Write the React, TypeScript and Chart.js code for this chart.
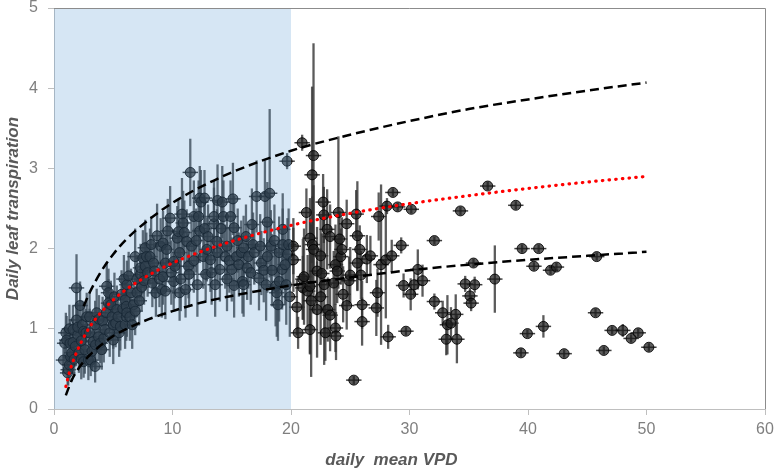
import React, { useEffect, useRef } from "react";
import { Chart, registerables } from "chart.js";

Chart.register(...registerables);

// ---- axes ----
const xTicks = [0, 10, 20, 30, 40, 50, 60];
const yTicks = [0, 1, 2, 3, 4, 5];
const xTitle = "daily  mean VPD";
const yTitle = "Daily leaf transpiration";
const shadedVpd = [0, 20];

// ---- fitted curves ----
const fitVpd = [1, 1.25, 1.5, 2, 2.5, 3, 4, 5, 6, 8, 10, 12, 15, 20, 25, 30, 35, 40, 45, 50];
const fitMean = [0.28, 0.43, 0.55, 0.74, 0.89, 1.02, 1.21, 1.36, 1.48, 1.67, 1.82, 1.94, 2.09, 2.29, 2.44, 2.56, 2.66, 2.75, 2.83, 2.9];
const fitUpper = [null, null, null, null, 1.28, 1.45, 1.72, 1.93, 2.1, 2.36, 2.57, 2.74, 2.95, 3.22, 3.42, 3.59, 3.74, 3.86, 3.97, 4.07];
const fitLower = [0.17, 0.27, 0.36, 0.49, 0.59, 0.67, 0.8, 0.91, 0.99, 1.12, 1.22, 1.31, 1.41, 1.54, 1.64, 1.73, 1.8, 1.86, 1.91, 1.96];

// ---- observations: [vpd, transpiration, transpiration error] ----
const obsLowVpd = [
  [0.8, 0.61, 0.15], [0.9, 0.82, 0.2], [1.0, 0.95, 0.25], [1.07, 0.86, 0.3], [1.15, 0.45, 0.15],
  [1.2, 0.49, 0.2], [1.3, 0.55, 0.2], [1.3, 1.0, 0.3], [1.35, 0.82, 0.3], [1.4, 0.65, 0.2],
  [1.5, 0.7, 0.25], [1.6, 0.99, 0.3], [1.6, 0.83, 0.25], [1.7, 0.62, 0.2], [1.8, 0.78, 0.25],
  [1.9, 1.51, 0.42], [1.9, 1.11, 0.35], [2.0, 0.92, 0.3], [2.0, 1.02, 0.3], [2.1, 0.7, 0.25],
  [2.2, 1.29, 0.3], [2.3, 0.85, 0.3], [2.3, 0.62, 0.25], [2.4, 1.05, 0.3], [2.5, 0.97, 0.35],
  [2.5, 0.59, 0.2], [2.6, 0.74, 0.3], [2.7, 0.95, 0.3], [2.76, 1.15, 0.3], [2.9, 0.61, 0.25],
  [3.0, 0.95, 0.3], [3.0, 1.15, 0.3], [3.1, 0.61, 0.2], [3.2, 0.72, 0.25], [3.3, 0.84, 0.3],
  [3.47, 1.05, 0.3], [3.47, 0.53, 0.2], [3.5, 0.8, 0.3], [3.6, 1.2, 0.3], [3.75, 0.9, 0.3],
  [3.8, 1.12, 0.3], [3.9, 0.82, 0.25], [4.03, 0.74, 0.25], [4.1, 1.1, 0.3], [4.2, 0.88, 0.3],
  [4.3, 0.99, 0.3], [4.4, 1.2, 0.3], [4.45, 1.53, 0.3], [4.6, 1.32, 0.3], [4.6, 1.45, 0.3],
  [4.7, 0.95, 0.3], [4.8, 1.3, 0.3], [4.9, 1.15, 0.3], [5.0, 0.86, 0.3], [5.0, 1.05, 0.3],
  [5.1, 1.4, 0.3], [5.2, 1.07, 0.3], [5.3, 1.24, 0.3], [5.4, 1.15, 0.3], [5.5, 0.95, 0.3],
  [5.6, 1.03, 0.3], [5.7, 1.43, 0.3], [5.8, 1.25, 0.3], [5.9, 1.62, 0.3], [6.0, 1.36, 0.3],
  [6.0, 1.05, 0.3], [6.1, 1.15, 0.3], [6.1, 1.28, 0.3], [6.15, 1.55, 0.3], [6.15, 1.2, 0.3],
  [6.3, 1.66, 0.3], [6.4, 1.15, 0.3], [6.5, 1.45, 0.3], [6.6, 1.05, 0.3], [6.7, 1.3, 0.3],
  [6.85, 1.22, 0.3], [6.85, 1.9, 0.35], [7.0, 1.45, 0.3], [7.0, 1.62, 0.3], [7.2, 1.35, 0.3],
  [7.3, 1.68, 0.3], [7.3, 1.76, 0.3], [7.4, 1.52, 0.3], [7.5, 1.88, 0.35], [7.6, 1.6, 0.3],
  [7.7, 1.78, 0.3], [7.7, 2.01, 0.35], [7.8, 1.9, 0.3], [7.9, 1.7, 0.3],
];

const obsMidVpd = [
  [8.1, 1.9, 0.35], [8.2, 2.05, 0.35], [8.3, 1.57, 0.3], [8.4, 1.82, 0.35], [8.5, 1.72, 0.35],
  [8.6, 1.45, 0.3], [8.7, 2.16, 0.4], [8.9, 1.62, 0.35], [9.0, 2.03, 0.35], [9.1, 1.49, 0.35],
  [9.2, 2.07, 0.4], [9.2, 1.65, 0.35], [9.4, 1.82, 0.35], [9.4, 1.47, 0.35], [9.5, 1.99, 0.4],
  [9.6, 2.22, 0.4], [9.8, 2.38, 0.4], [9.9, 1.7, 0.4], [10.1, 1.59, 0.35], [10.1, 1.84, 0.4],
  [10.2, 1.78, 0.4], [10.4, 2.13, 0.4], [10.5, 2.21, 0.4], [10.6, 1.95, 0.4], [10.6, 1.45, 0.35],
  [10.7, 1.62, 0.4], [10.8, 2.43, 0.45], [10.9, 2.32, 0.4], [11.0, 2.2, 0.4], [11.1, 1.49, 0.35],
  [11.2, 2.09, 0.4], [11.35, 1.78, 0.4], [11.4, 1.68, 0.4], [11.5, 2.95, 0.42], [11.6, 2.03, 0.4],
  [11.8, 1.85, 0.4], [11.8, 2.4, 0.45], [12.0, 2.1, 0.4], [12.1, 1.55, 0.4], [12.2, 2.4, 0.45],
  [12.3, 2.63, 0.4], [12.3, 2.22, 0.4], [12.4, 2.58, 0.4], [12.6, 1.9, 0.4], [12.7, 2.63, 0.35],
  [12.7, 2.25, 0.4], [12.8, 1.68, 0.35], [12.9, 1.99, 0.4], [13.0, 2.15, 0.4], [13.2, 1.86, 0.4],
  [13.3, 1.7, 0.4], [13.5, 2.31, 0.45], [13.5, 2.4, 0.45], [13.6, 1.55, 0.4], [13.75, 2.09, 0.4],
  [13.8, 1.95, 0.4], [13.8, 2.6, 0.45], [14.0, 1.74, 0.4], [14.1, 2.25, 0.4], [14.2, 2.58, 0.45],
  [14.3, 2.4, 0.45], [14.45, 1.9, 0.4], [14.6, 2.03, 0.4], [14.6, 1.62, 0.4], [14.8, 1.85, 0.4],
  [14.9, 2.4, 0.45], [15.0, 1.74, 0.4], [15.1, 2.62, 0.45], [15.2, 2.26, 0.4], [15.2, 1.54, 0.4],
  [15.4, 1.9, 0.4], [15.5, 2.1, 0.4], [15.6, 1.8, 0.4], [15.8, 1.95, 0.4], [15.9, 1.59, 0.4],
  [16.0, 2.01, 0.4], [16.0, 1.55, 0.4], [16.2, 2.15, 0.4], [16.3, 1.76, 0.4], [16.4, 1.9, 0.4],
  [16.6, 1.7, 0.4], [16.7, 2.3, 0.45], [16.8, 2.05, 0.4], [16.9, 1.95, 0.4], [17.1, 2.65, 0.45],
  [17.3, 1.63, 0.4], [17.4, 2.03, 0.4], [17.5, 1.82, 0.4], [17.7, 1.73, 0.4], [17.8, 2.65, 0.45],
  [17.9, 1.55, 0.45], [18.0, 2.33, 0.5], [18.0, 1.9, 0.45], [18.2, 2.69, 1.05], [18.3, 2.03, 0.45],
  [18.4, 1.73, 0.45], [18.6, 2.1, 0.45], [18.7, 1.53, 0.5], [18.8, 1.45, 0.55], [18.9, 1.3, 0.45],
  [19.0, 1.95, 0.45], [19.0, 1.59, 0.5], [19.25, 1.74, 0.5], [19.3, 2.24, 0.45], [19.3, 2.05, 0.45],
  [19.5, 1.8, 0.5], [19.6, 1.55, 0.5], [19.67, 3.09, 0.1], [19.7, 1.93, 0.45], [19.8, 2.05, 0.45],
  [19.9, 1.4, 0.5],
];

const obsHighVpd = [
  [20.2, 2.03, 0.35], [20.2, 1.86, 0.4], [20.5, 1.27, 0.35], [20.6, 0.95, 0.2], [20.94, 3.32, 0.1],
  [21.0, 1.62, 0.5], [21.0, 1.51, 0.4], [21.1, 1.65, 0.6], [21.3, 2.45, 0.3], [21.4, 1.47, 0.45],
  [21.6, 2.13, 0.5], [21.6, 1.53, 0.85], [21.6, 0.99, 0.3], [21.7, 1.35, 0.95], [21.78, 2.92, 1.1],
  [21.8, 2.05, 0.6], [21.9, 3.16, 1.4], [21.9, 1.99, 0.8], [22.2, 1.24, 0.6], [22.2, 1.72, 0.55],
  [22.5, 1.91, 0.5], [22.5, 1.4, 0.6], [22.6, 1.69, 0.5], [22.71, 2.58, 0.35], [22.77, 2.42, 0.35],
  [22.8, 1.55, 1.0], [22.9, 0.95, 0.35], [23.05, 2.24, 0.5], [23.1, 1.24, 0.4], [23.3, 2.15, 0.4],
  [23.3, 1.17, 0.45], [23.6, 1.57, 0.4], [23.75, 1.8, 0.5], [23.75, 1.01, 0.3], [23.8, 0.91, 0.3],
  [23.9, 1.72, 0.4], [24.0, 2.45, 0.95], [24.1, 2.12, 0.35], [24.2, 1.9, 0.35], [24.3, 1.99, 0.4],
  [24.4, 1.43, 0.35], [24.7, 2.31, 0.3], [24.7, 1.29, 0.3], [24.9, 1.6, 0.3], [25.0, 1.67, 0.35],
  [25.3, 0.36, 0.05], [25.5, 2.43, 0.3], [25.6, 2.16, 0.68], [25.6, 1.82, 0.35], [25.8, 1.99, 0.3],
  [25.9, 1.67, 0.3], [26.0, 1.3, 0.3], [26.0, 1.09, 0.3], [26.4, 1.87, 0.3], [26.7, 1.91, 0.25],
  [27.2, 1.26, 0.35], [27.3, 1.45, 0.3], [27.4, 2.4, 0.3], [27.6, 1.8, 1.0], [28.0, 1.86, 0.73],
  [28.1, 2.53, 0.1], [28.2, 0.9, 0.15], [28.5, 1.91, 0.2], [28.6, 2.7, 0.05], [29.0, 2.52, 0.05],
  [29.3, 2.04, 0.1], [29.5, 1.54, 0.15], [29.7, 0.97, 0.05], [30.1, 1.43, 0.2], [30.15, 2.49, 0.05],
  [30.4, 1.55, 0.15], [30.7, 1.74, 0.25], [31.1, 1.6, 0.2], [32.1, 2.1, 0.05], [32.1, 1.34, 0.1],
  [32.8, 1.2, 0.15], [33.1, 0.87, 0.2], [33.2, 1.05, 0.37], [33.5, 1.07, 0.2], [33.9, 1.18, 0.25],
  [34.0, 0.87, 0.3], [34.3, 2.47, 0.05], [34.7, 1.56, 0.1], [35.1, 1.41, 0.1], [35.2, 1.32, 0.1],
  [35.4, 1.82, 0.05], [35.5, 1.55, 0.1], [36.6, 2.78, 0.05], [37.2, 1.62, 0.42], [38.97, 2.54, 0.05],
  [39.4, 0.7, 0.05], [39.5, 2.0, 0.05], [39.95, 0.94, 0.05], [40.5, 1.78, 0.05], [40.9, 2.0, 0.05],
  [41.3, 1.03, 0.14], [41.9, 1.73, 0.05], [42.4, 1.77, 0.05], [43.05, 0.69, 0.05], [45.7, 1.2, 0.05],
  [45.8, 1.9, 0.05], [46.4, 0.73, 0.05], [47.1, 0.98, 0.05], [48.0, 0.98, 0.08], [48.7, 0.88, 0.05],
  [49.3, 0.95, 0.05], [50.2, 0.77, 0.05],
];

const vpdErr = 0.65;

const FONT = "'Liberation Sans', Arial, sans-serif";

const overlayPlugin = {
  id: "vpdOverlay",
  beforeDatasetDraw(chart: any, args: any) {
    const ds: any = chart.data.datasets[args.index];
    if (!ds.errorBars) return;
    const { ctx, chartArea: ca, scales } = chart;
    const xs = scales.x;
    const ys = scales.y;
    ctx.save();
    ctx.beginPath();
    ctx.rect(ca.left, ca.top, ca.right - ca.left, ca.bottom - ca.top);
    ctx.clip();
    ds.data.forEach((p: any) => {
      const px = xs.getPixelForValue(p.x);
      const py = ys.getPixelForValue(p.y);
      ctx.strokeStyle = "rgba(50,50,50,0.8)";
      ctx.lineWidth = 2.3;
      ctx.beginPath();
      ctx.moveTo(px, ys.getPixelForValue(p.y + p.yErr));
      ctx.lineTo(px, ys.getPixelForValue(p.y - p.yErr));
      ctx.stroke();
      ctx.strokeStyle = "rgba(30,30,30,0.85)";
      ctx.lineWidth = 1.5;
      ctx.beginPath();
      ctx.moveTo(xs.getPixelForValue(p.x - vpdErr), py);
      ctx.lineTo(xs.getPixelForValue(p.x + vpdErr), py);
      ctx.stroke();
    });
    ctx.restore();
  },
  afterDatasetDraw(chart: any, args: any) {
    const ds: any = chart.data.datasets[args.index];
    if (!ds.errorBars) return;
    const { ctx, chartArea: ca, scales } = chart;
    const x0 = scales.x.getPixelForValue(shadedVpd[0]);
    const x1 = scales.x.getPixelForValue(shadedVpd[1]);
    ctx.save();
    ctx.fillStyle = "rgba(91,155,213,0.25)";
    ctx.fillRect(x0, ca.top, x1 - x0, ca.bottom - ca.top);
    ctx.restore();
  },
  afterDraw(chart: any) {
    const { ctx, chartArea: ca } = chart;
    ctx.save();
    ctx.strokeStyle = "#8c8c8c";
    ctx.lineWidth = 1;
    ctx.beginPath();
    ctx.moveTo(ca.left, ca.top + 0.5);
    ctx.lineTo(ca.right + 0.5, ca.top + 0.5);
    ctx.lineTo(ca.right + 0.5, ca.bottom);
    ctx.stroke();

    ctx.fillStyle = "#595959";
    ctx.font = `italic bold 17px ${FONT}`;
    ctx.textAlign = "center";
    ctx.textBaseline = "alphabetic";
    ctx.fillText(xTitle, (ca.left + ca.right) / 2 - 18, 465);
    ctx.translate(18, (ca.top + ca.bottom) / 2);
    ctx.rotate(-Math.PI / 2);
    ctx.fillText(yTitle, 0, 0);
    ctx.restore();
  },
};

function toPoints(rows: number[][]) {
  return rows.map((r) => ({ x: r[0], y: r[1], yErr: r[2] }));
}

function curve(ys: (number | null)[]) {
  return fitVpd.map((x, i) => ({ x, y: ys[i] }));
}

export default function App() {
  const ref = useRef<HTMLCanvasElement>(null);

  useEffect(() => {
    document.body.style.margin = "0";
    const canvas = ref.current;
    if (!canvas) return;
    const observations = [...obsLowVpd, ...obsMidVpd, ...obsHighVpd];
    const chart = new Chart(canvas, {
      type: "scatter",
      data: {
        datasets: [
          {
            label: "observed",
            data: toPoints(observations),
            errorBars: true,
            order: 10,
            pointRadius: 5,
            pointHoverRadius: 5,
            backgroundColor: "rgba(30,30,30,0.72)",
            borderColor: "rgba(0,0,0,0.85)",
            borderWidth: 1,
          } as any,
          {
            label: "upper",
            data: curve(fitUpper),
            showLine: true,
            spanGaps: false,
            order: 3,
            pointRadius: 0,
            borderColor: "#000000",
            borderWidth: 2.5,
            borderDash: [9, 5],
            cubicInterpolationMode: "monotone",
          },
          {
            label: "lower",
            data: curve(fitLower),
            showLine: true,
            order: 2,
            pointRadius: 0,
            borderColor: "#000000",
            borderWidth: 2.5,
            borderDash: [9, 5],
            cubicInterpolationMode: "monotone",
          },
          {
            label: "mean",
            data: curve(fitMean),
            showLine: true,
            order: 1,
            pointRadius: 0,
            borderColor: "#ff0000",
            borderWidth: 3.2,
            borderDash: [0.5, 6.2],
            borderCapStyle: "round",
            cubicInterpolationMode: "monotone",
          },
        ],
      },
      options: {
        animation: false,
        responsive: false,
        devicePixelRatio: 1,
        layout: { padding: { top: 8, right: 12, left: 0, bottom: 0 } },
        plugins: { legend: { display: false }, tooltip: { enabled: false } },
        scales: {
          x: {
            type: "linear",
            min: xTicks[0],
            max: xTicks[xTicks.length - 1],
            afterFit: (s: any) => {
              s.height = 62;
              s.paddingLeft = 0;
              s.paddingRight = 0;
            },
            afterBuildTicks: (s: any) => {
              s.ticks = xTicks.map((v) => ({ value: v }));
            },
            ticks: {
              color: "#7f7f7f",
              font: { family: FONT, size: 16 },
              padding: 5,
            },
            grid: { drawOnChartArea: false, drawTicks: true, tickLength: 6, color: "#bfbfbf" },
            border: { display: true, color: "#bfbfbf", width: 1 },
          },
          y: {
            type: "linear",
            min: yTicks[0],
            max: yTicks[yTicks.length - 1],
            afterFit: (s: any) => {
              s.width = 54;
              s.paddingTop = 0;
              s.paddingBottom = 0;
            },
            afterBuildTicks: (s: any) => {
              s.ticks = yTicks.map((v) => ({ value: v }));
            },
            ticks: {
              color: "#7f7f7f",
              font: { family: FONT, size: 16 },
              padding: 10,
            },
            grid: { drawOnChartArea: false, drawTicks: true, tickLength: 6, color: "#bfbfbf" },
            border: { display: true, color: "#bfbfbf", width: 1 },
          },
        },
      } as any,
      plugins: [overlayPlugin],
    });
    return () => chart.destroy();
  }, []);

  return (
    <div style={{ width: 777, height: 471 }}>
      <canvas ref={ref} width={777} height={471} style={{ display: "block" }} />
    </div>
  );
}
